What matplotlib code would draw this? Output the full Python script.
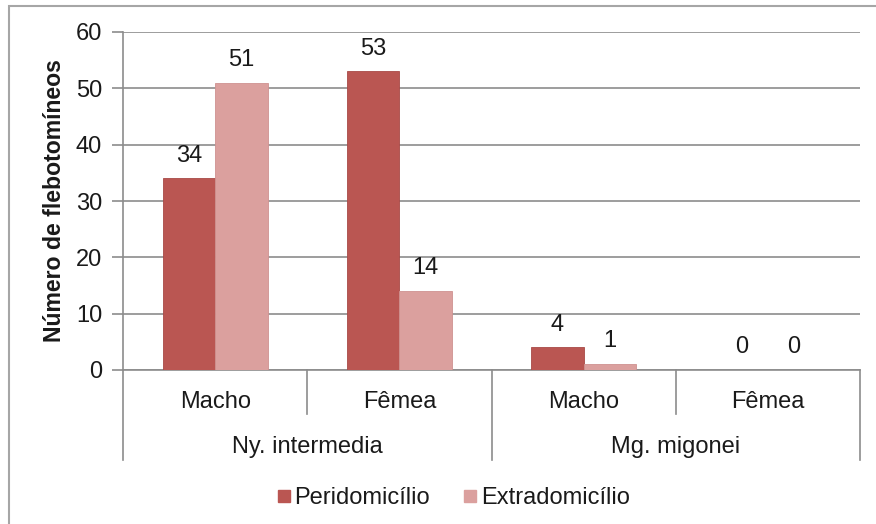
import numpy as np
import matplotlib.pyplot as plt
from matplotlib.lines import Line2D
from matplotlib.patches import Rectangle

# Counts per species / sex and collection site
species = ["Ny. intermedia", "Mg. migonei"]
sexes = ["Macho", "Fêmea", "Macho", "Fêmea"]
peridomicilio = [34, 53, 4, 0]
extradomicilio = [51, 14, 1, 0]

dark = "#BA5652"
light = "#DBA09E"
grid_col = "#8c8c8c"
text_col = "#1a1a1a"

plt.rcParams["font.family"] = ["Liberation Sans", "DejaVu Sans"]
plt.rcParams["font.size"] = 17

W, H = 876, 524
fig = plt.figure(figsize=(W / 100, H / 100), dpi=100)
ax = fig.add_axes([123 / W, 154 / H, (860 - 123) / W, (370 - 32) / H])

x = np.arange(len(sexes))
bw = 0.285
b1 = ax.bar(x - bw / 2, peridomicilio, bw, color=dark, edgecolor="#a84a47", linewidth=0.6, zorder=3)
b2 = ax.bar(x + bw / 2, extradomicilio, bw, color=light, edgecolor="#cf9290", linewidth=0.6, zorder=3)

for bars, vals in ((b1, peridomicilio), (b2, extradomicilio)):
    for b, v in zip(bars, vals):
        ax.annotate(str(v), (b.get_x() + b.get_width() / 2, v), xytext=(0, 16.5),
                    textcoords="offset points", ha="center", va="center", color=text_col)

ax.set_xlim(-0.5, 3.5)
ax.set_ylim(0, 60)
ax.set_yticks(range(0, 61, 10))
ax.yaxis.grid(True, color=grid_col, linewidth=1.2, zorder=0)
ax.set_axisbelow(True)
ax.tick_params(axis="y", length=8, width=1.2, color=grid_col, pad=7, labelcolor=text_col)
ax.tick_params(axis="x", length=0, labelbottom=False)
for s in ["top", "right"]:
    ax.spines[s].set_visible(False)
ax.spines["left"].set_color(grid_col)
ax.spines["bottom"].set_color(grid_col)
ax.spines["left"].set_linewidth(1.2)
ax.spines["bottom"].set_linewidth(1.2)

ax.set_ylabel("Número de flebotomíneos", fontweight="bold", fontsize=16.6, color=text_col, labelpad=7)

# two-level category axis
tr = ax.get_xaxis_transform()
axh = 370 - 32
inner = -44 / axh
outer = -90 / axh
for xb in [0.5, 2.5]:
    ax.plot([xb, xb], [0, inner], transform=tr, color=grid_col, lw=1.2, clip_on=False)
for xb in [-0.5, 1.5, 3.5]:
    ax.plot([xb, xb], [0, outer], transform=tr, color=grid_col, lw=1.2, clip_on=False)
for xi, lab in zip(x, sexes):
    ax.text(xi, -32 / axh, lab, transform=tr, ha="center", va="center", color=text_col)
for gi, lab in enumerate(species):
    ax.text(2 * gi + 0.5, -77 / axh, lab, transform=tr, ha="center", va="center", color=text_col)

handles = [Line2D([], [], marker="s", ls="none", color=dark, markersize=8),
           Line2D([], [], marker="s", ls="none", color=light, markersize=8)]
fig.legend(handles, ["Peridomicílio", "Extradomicílio"], loc="center",
           bbox_to_anchor=(452 / W, 1 - 498 / H), ncol=2, frameon=False,
           handletextpad=0.05, columnspacing=1.3, handlelength=0.8, labelcolor=text_col)

# outer chart border
fig.patches.append(Rectangle((9 / W, -0.1), 1.2, 1.1 - 6 / H, transform=fig.transFigure,
                             fill=False, edgecolor="#a6a6a6", lw=1.5))

fig.savefig("out.png", dpi=100)
